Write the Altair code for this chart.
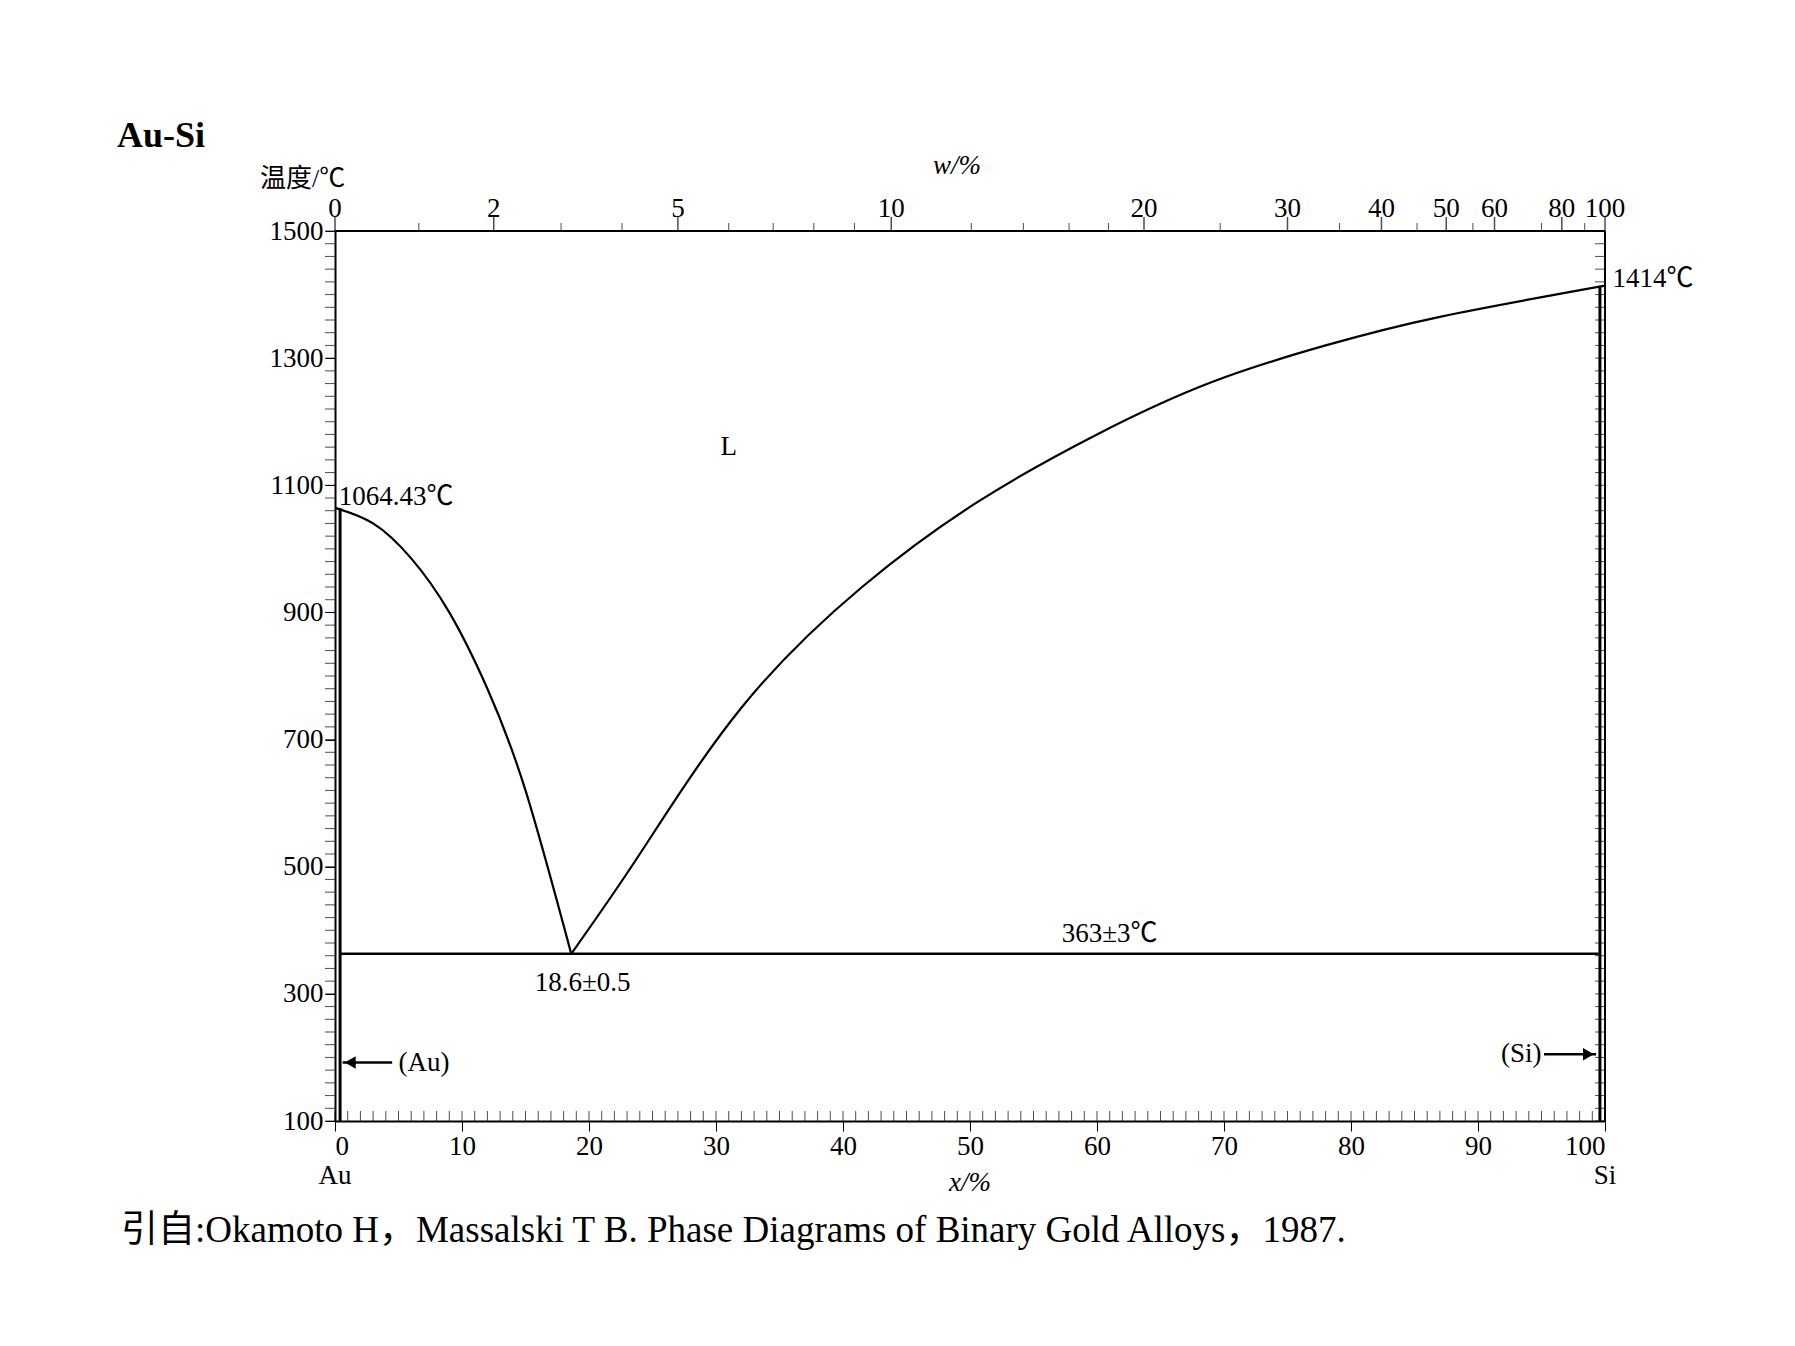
import altair as alt
import pandas as pd

# liquidus, left branch (x% Si, temperature °C)
left_x = [0, 3, 6, 9, 12, 15, 18.6]
left_t = [1064.43, 1040, 985, 900, 780, 620, 363]
# liquidus, right branch
right_x = [18.6, 24, 32, 41.5, 50.7, 60, 69, 78, 87, 100]
right_t = [363, 520, 750, 940, 1075, 1180, 1262, 1320, 1365, 1414]
eut_x = [0.4, 99.5]
eut_t = [363, 363]

x_major = [0, 10, 20, 30, 40, 50, 60, 70, 80, 90, 100]
y_major = [100, 300, 500, 700, 900, 1100, 1300, 1500]
x_minor = list(range(0, 101, 1))
y_minor = list(range(100, 1501, 20))

# top axis: weight % and matching atom % position
w_labels = ["0", "2", "5", "10", "20", "30", "40", "50", "60", "80", "100"]
w_pos = [0, 12.5, 27, 43.8, 63.7, 75, 82.4, 87.5, 91.3, 96.6, 100]
w_minor_pos = [6.6, 17.8, 22.6, 31, 34.5, 37.7, 40.9, 50.1, 54.2, 57.8, 60.9, 69.7, 79.1, 85.2, 89.6, 95.0, 98.4]

W, H = 1270, 890
FONT = "Liberation Serif, Noto Sans CJK SC"
FS = 27

xs = alt.Scale(domain=[0, 100], nice=False)
ys = alt.Scale(domain=[100, 1500], nice=False)

frame = alt.Chart(pd.DataFrame({"x": [0], "t": [100]})).mark_point(opacity=0).encode(
    x=alt.X("x:Q", scale=xs, axis=alt.Axis(values=x_major, title=None, labelFont=FONT, labelFontSize=FS,
                                            labelColor="black", tickColor="black", domainColor="black",
                                            domainWidth=2, tickSize=10, grid=False, labelPadding=2, format="d")),
    y=alt.Y("t:Q", scale=ys, axis=alt.Axis(values=y_major, title=None, labelFont=FONT, labelFontSize=FS,
                                            labelColor="black", tickColor="black", domainColor="black",
                                            domainWidth=2, tickSize=10, grid=False, labelPadding=2, format="d")),
)

def line(xv, tv, width=2.2, interp="natural"):
    return alt.Chart(pd.DataFrame({"x": xv, "t": tv})).mark_line(
        color="black", strokeWidth=width, interpolate=interp, clip=False
    ).encode(x="x:Q", y="t:Q", order="x:Q")

liq_l = line(left_x, left_t)
liq_r = line(right_x, right_t)
eut = line(eut_x, eut_t, 2.5, "linear")
au_side = alt.Chart(pd.DataFrame({"x": [0.4, 0.4], "t": [100, 1064.43]})).mark_line(color="black", strokeWidth=3).encode(x="x:Q", y="t:Q")
si_side = alt.Chart(pd.DataFrame({"x": [99.6, 99.6], "t": [100, 1414]})).mark_line(color="black", strokeWidth=3).encode(x="x:Q", y="t:Q")

minor_x = alt.Chart(pd.DataFrame({"x": x_minor})).mark_tick(color="black", size=10, thickness=1, orient="vertical").encode(
    x="x:Q", y=alt.value(H - 5))
minor_y = alt.Chart(pd.DataFrame({"t": y_minor})).mark_tick(color="black", size=10, thickness=1, orient="horizontal").encode(
    y="t:Q", x=alt.value(-5))
minor_y2 = alt.Chart(pd.DataFrame({"t": y_minor})).mark_tick(color="black", size=10, thickness=1, orient="horizontal").encode(
    y="t:Q", x=alt.value(W - 5))

top_rule = alt.Chart(pd.DataFrame({"x": [0]})).mark_rule(color="black", strokeWidth=2).encode(
    x=alt.value(0), x2=alt.value(W), y=alt.value(0))
right_rule = alt.Chart(pd.DataFrame({"x": [0]})).mark_rule(color="black", strokeWidth=2).encode(
    x=alt.value(W), y=alt.value(0), y2=alt.value(H))
top_major = alt.Chart(pd.DataFrame({"x": w_pos})).mark_tick(color="black", size=14, thickness=1.5, orient="vertical").encode(
    x="x:Q", y=alt.value(-7))
top_minor = alt.Chart(pd.DataFrame({"x": w_minor_pos})).mark_tick(color="black", size=8, thickness=1, orient="vertical").encode(
    x="x:Q", y=alt.value(-4))
top_labels = alt.Chart(pd.DataFrame({"x": w_pos, "lab": w_labels})).mark_text(
    font=FONT, fontSize=FS, baseline="bottom", dy=-8, color="black").encode(x="x:Q", y=alt.value(0), text="lab:N")

ann = pd.DataFrame({
    "x": [0.3, 100.6, 31, 19.5, 61, 50, 0, 100],
    "t": [1060, 1425, 1160, 330, 375, 100, 100, 100],
    "lab": ["1064.43℃", "1414℃", "L", "18.6±0.5", "363±3℃", "x/%", "Au", "Si"],
    "dy": [-14, 0, 0, 8, -12, 62, 55, 55],
    "align": ["left", "left", "center", "center", "center", "center", "center", "center"],
})
texts = []
for _, r in ann.iterrows():
    style = "italic" if r["lab"] == "x/%" else "normal"
    texts.append(alt.Chart(pd.DataFrame([r])).mark_text(
        font=FONT, fontSize=FS, color="black", align=r["align"], dy=int(r["dy"]), fontStyle=style
    ).encode(x="x:Q", y="t:Q", text="lab:N"))

arrows = pd.DataFrame({"x": [0.6, 4.5], "t": [192, 192]})
au_arrow = alt.Chart(arrows).mark_line(color="black", strokeWidth=2.5).encode(x="x:Q", y="t:Q")
au_head = alt.Chart(pd.DataFrame({"x": [1.2], "t": [192]})).mark_point(
    shape="triangle-left", filled=True, color="black", size=160, opacity=1).encode(x="x:Q", y="t:Q")
au_txt = alt.Chart(pd.DataFrame({"x": [5], "t": [192], "lab": ["(Au)"]})).mark_text(
    font=FONT, fontSize=FS, align="left", color="black").encode(x="x:Q", y="t:Q", text="lab:N")
si_arrow = alt.Chart(pd.DataFrame({"x": [95.2, 99.3], "t": [205, 205]})).mark_line(color="black", strokeWidth=2.5).encode(x="x:Q", y="t:Q")
si_head = alt.Chart(pd.DataFrame({"x": [98.7], "t": [205]})).mark_point(
    shape="triangle-right", filled=True, color="black", size=160, opacity=1).encode(x="x:Q", y="t:Q")
si_txt = alt.Chart(pd.DataFrame({"x": [95], "t": [205], "lab": ["(Si)"]})).mark_text(
    font=FONT, fontSize=FS, align="right", color="black").encode(x="x:Q", y="t:Q", text="lab:N")

fixed = pd.DataFrame({
    "lab": ["Au-Si", "温度/℃", "w/%", "引自:Okamoto H，Massalski T B.  Phase Diagrams of Binary Gold Alloys，1987."],
    "px": [-218, -75, 598, -214],
    "py": [-95, -52, -65, 1000],
    "fs": [36, 26, 27, 37],
    "fw": ["bold", "normal", "normal", "normal"],
    "st": ["normal", "normal", "italic", "normal"],
})
fixed_layers = []
for _, r in fixed.iterrows():
    fixed_layers.append(alt.Chart(pd.DataFrame([r])).mark_text(
        font=FONT, fontSize=int(r["fs"]), fontWeight=r["fw"], fontStyle=r["st"], align="left", color="black"
    ).encode(x=alt.value(int(r["px"])), y=alt.value(int(r["py"])), text="lab:N"))

chart = alt.layer(
    frame, top_rule, right_rule, minor_x, minor_y, minor_y2, top_major, top_minor, top_labels,
    au_side, si_side, liq_l, liq_r, eut, au_arrow, au_head, au_txt, si_arrow, si_head, si_txt,
    *texts, *fixed_layers
).properties(
    width=W, height=H, autosize=alt.AutoSizeParams(type="none"),
    padding={"left": 327, "top": 223, "right": 180, "bottom": 200},
).configure_view(stroke=None).configure(background="white")

chart.save("out.html", embed_options={"renderer": "svg", "actions": False})
